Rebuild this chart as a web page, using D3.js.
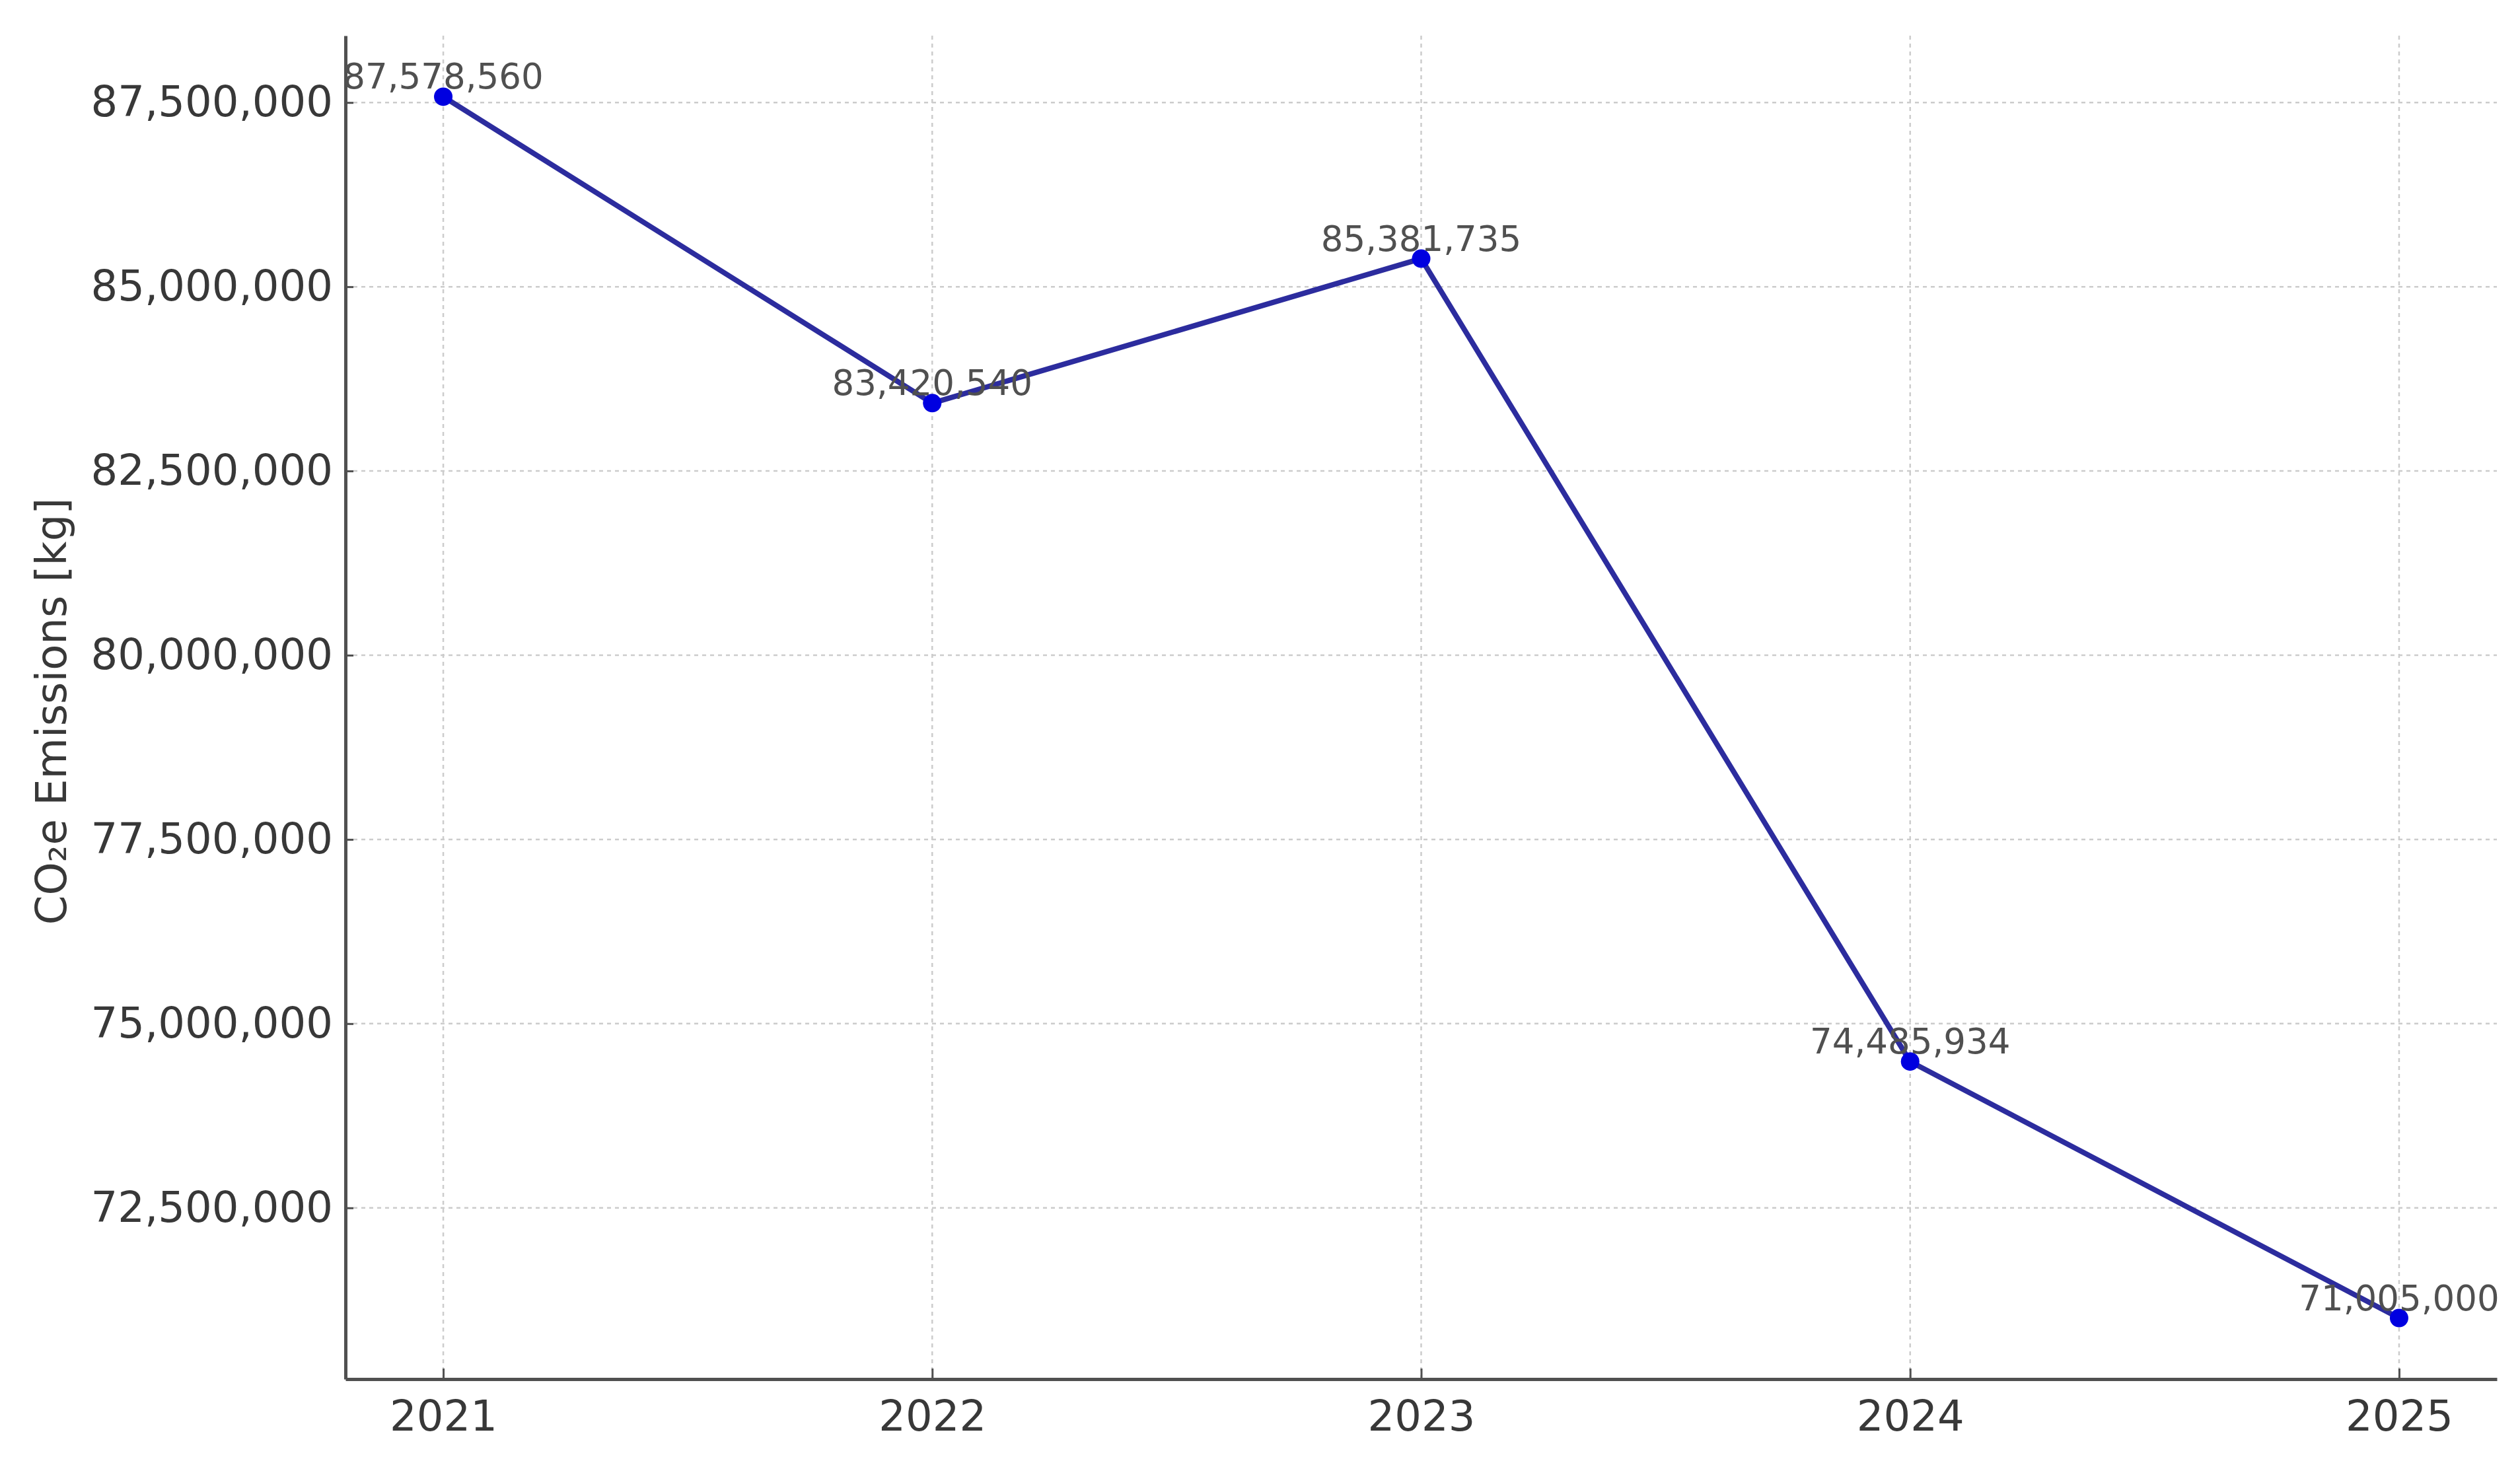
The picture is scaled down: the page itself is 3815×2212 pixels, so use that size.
<!DOCTYPE html>
<html>
<head>
<meta charset="utf-8">
<script src="https://cdn.jsdelivr.net/npm/d3@7"></script>
<style>
  html, body { margin: 0; padding: 0; background: #fff; }
  svg text { font-family: "DejaVu Sans", sans-serif; }
</style>
</head>
<body>
<div id="chart"></div>
<script>
// Emissions per year
const years = [2021, 2022, 2023, 2024, 2025];
const emissions = [87578560, 83420540, 85381735, 74485934, 71005000];
const yTicks = [72500000, 75000000, 77500000, 80000000, 82500000, 85000000, 87500000];

const W = 3815, H = 2212;
const margin = {top: 54, right: 35, bottom: 124, left: 523};
const iw = W - margin.left - margin.right;
const ih = H - margin.top - margin.bottom;

const data = years.map((y, i) => ({year: y, value: emissions[i]}));

const svg = d3.select('#chart').append('svg')
  .attr('width', W)
  .attr('height', H);
const g = svg.append('g')
  .attr('transform', `translate(${margin.left},${margin.top})`);

// matplotlib-like 5% padding on both axes
const xpad = (d3.max(years) - d3.min(years)) * 0.05;
const x = d3.scaleLinear()
  .domain([d3.min(years) - xpad, d3.max(years) + xpad])
  .range([0, iw]);
const [ymin, ymax] = d3.extent(emissions);
const ypad = (ymax - ymin) * 0.05;
const y = d3.scaleLinear()
  .domain([ymin - ypad, ymax + ypad])
  .range([ih, 0]);

// grid
g.append('g').selectAll('line.vgrid').data(years)
  .enter().append('line')
  .attr('x1', d => x(d)).attr('x2', d => x(d))
  .attr('y1', 0).attr('y2', ih)
  .attr('stroke', '#cccccc')
  .attr('stroke-width', 2.5)
  .attr('stroke-dasharray', '6,6');
g.append('g').selectAll('line.hgrid').data(yTicks)
  .enter().append('line')
  .attr('x1', 0).attr('x2', iw)
  .attr('y1', d => y(d)).attr('y2', d => y(d))
  .attr('stroke', '#cccccc')
  .attr('stroke-width', 2.5)
  .attr('stroke-dasharray', '6,6');

// axes
const fmt = d3.format(',');
const xAxis = g.append('g')
  .attr('transform', `translate(0,${ih})`)
  .call(d3.axisBottom(x).tickValues(years).tickFormat(d3.format('d'))
    .tickSizeInner(-16).tickSizeOuter(0).tickPadding(30));
const yAxis = g.append('g')
  .call(d3.axisLeft(y).tickValues(yTicks).tickFormat(fmt)
    .tickSizeInner(-12).tickSizeOuter(0).tickPadding(19));

[xAxis, yAxis].forEach(a => {
  a.select('.domain').attr('stroke', '#505050').attr('stroke-width', 5);
  a.selectAll('.tick line').attr('stroke', '#505050').attr('stroke-width', 3);
  a.selectAll('.tick text')
    .attr('fill', '#383838')
    .attr('font-size', 64)
    .style('font-family', '"DejaVu Sans", sans-serif');
});
xAxis.selectAll('.tick text').attr('dy', '0.75em');

// y-axis title
svg.append('text')
  .attr('transform', `translate(78,${margin.top + ih / 2 + 6}) rotate(-90)`)
  .attr('text-anchor', 'middle')
  .attr('dominant-baseline', 'central')
  .attr('font-size', 64)
  .attr('fill', '#383838')
  .text('CO₂e Emissions [kg]');

// line + markers
const line = d3.line()
  .x(d => x(d.year))
  .y(d => y(d.value));
g.append('path')
  .datum(data)
  .attr('d', line)
  .attr('fill', 'none')
  .attr('stroke', '#2c2c9e')
  .attr('stroke-width', 8);
g.selectAll('circle.pt').data(data)
  .enter().append('circle')
  .attr('class', 'pt')
  .attr('cx', d => x(d.year))
  .attr('cy', d => y(d.value))
  .attr('r', 14)
  .attr('fill', '#0000e0');

// value labels
g.selectAll('text.lbl').data(data)
  .enter().append('text')
  .attr('class', 'lbl')
  .attr('x', d => x(d.year))
  .attr('y', d => y(d.value) - 12)
  .attr('text-anchor', 'middle')
  .attr('font-size', 53)
  .attr('fill', '#505050')
  .text(d => fmt(d.value));
</script>
</body>
</html>
